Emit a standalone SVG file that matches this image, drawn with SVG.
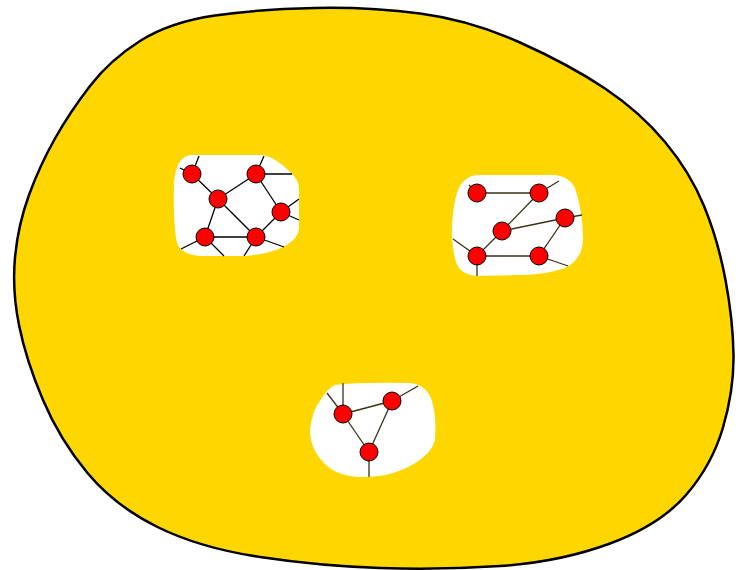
<svg xmlns="http://www.w3.org/2000/svg" width="741" height="570" viewBox="0 0 741 570">
<style>
.region{fill:#FFD700;stroke:#000;stroke-width:2.5}
.hole{fill:#fff;stroke:none}
.e1{stroke:#000;stroke-width:1.3;fill:none}
.e2{stroke:#3a3015;stroke-width:1.3;fill:none}
.n{fill:#FF0000;stroke:#000;stroke-width:1}
</style>
<rect width="741" height="570" fill="#fff"/>
<g id="region">
<path class="region" d="M315,8 Q370,7 420,13.5 Q470,20 520,42.5 Q570,65 605,88.5 Q640,112 665,142 Q690,172 704,206 Q718,240 725.5,280 Q733,320 733.5,355 Q734,390 723,427.5 Q712,465 686,495 Q660,525 610,543.5 Q560,562 500,566 Q440,570 380,568 Q320,566 260,557 Q200,548 157.5,527 Q115,506 87.5,473 Q60,440 43,400 Q26,360 19,325 Q12,290 15,257.5 Q18,225 29,195 Q40,165 55,138.5 Q70,112 90,86 Q110,60 140,41 Q170,22 215,15.5 Q260,9 315,8 Z"/>
</g>
<g id="holes">
<path id="hole1" class="hole" d="M190,155 L263,155 Q276,157 294,176 Q299,182 299,190 L299,228 Q299,238 285,246 Q270,254 245,256 L200,256 Q182,255 177,243 Q173,225 174,185 Q175,158 190,155 Z"/>
<path id="hole2" class="hole" d="M477,175 L555,175 Q570,177 575,188 Q583,212 583,240 Q582,260 565,268 Q545,275 520,275 L478,276 Q460,275 456,262 Q451,245 452,225 Q454,197 460,186 Q466,176 477,175 Z"/>
<path id="hole3" class="hole" d="M335,385 Q360,382 410,383 Q425,385 430,396 Q437,412 435,440 Q432,452 417,462 Q395,476 367,477 Q340,478 326,465 Q310,450 310,430 Q312,410 322,398 Q328,388 335,385 Z"/>
</g>
<g id="connectors">
<g class="e1">
<line x1="192" y1="174" x2="218" y2="199"/>
<line x1="218" y1="199" x2="256" y2="174"/>
<line x1="218" y1="199" x2="205" y2="237"/>
<line x1="218" y1="199" x2="256" y2="237"/>
<line x1="256" y1="174" x2="281" y2="212"/>
<line x1="281" y1="212" x2="256" y2="237"/>
<line x1="205" y1="237" x2="256" y2="237"/>
<line x1="192" y1="174" x2="199" y2="156"/>
<line x1="192" y1="174" x2="180" y2="168"/>
<line x1="256" y1="174" x2="264" y2="156"/>
<line x1="256" y1="174" x2="292" y2="174"/>
<line x1="281" y1="212" x2="299" y2="199"/>
<line x1="281" y1="212" x2="299" y2="220"/>
<line x1="205" y1="237" x2="181" y2="249"/>
<line x1="205" y1="237" x2="224" y2="256"/>
<line x1="256" y1="237" x2="244" y2="256"/>
<line x1="256" y1="237" x2="284" y2="247"/>
</g>
<g class="e2">
<line x1="477" y1="193" x2="539" y2="193"/>
<line x1="539" y1="193" x2="502" y2="231"/>
<line x1="502" y1="231" x2="565" y2="218"/>
<line x1="502" y1="231" x2="477" y2="256"/>
<line x1="477" y1="256" x2="539" y2="256"/>
<line x1="539" y1="256" x2="565" y2="218"/>
<line x1="477" y1="193" x2="469" y2="185"/>
<line x1="539" y1="193" x2="559" y2="181"/>
<line x1="565" y1="218" x2="582" y2="215"/>
<line x1="477" y1="256" x2="453" y2="239"/>
<line x1="477" y1="256" x2="477" y2="276"/>
<line x1="539" y1="256" x2="568" y2="266"/>
<line x1="343" y1="414" x2="392" y2="401"/>
<line x1="343" y1="414" x2="369" y2="452"/>
<line x1="392" y1="401" x2="369" y2="452"/>
<line x1="343" y1="414" x2="327" y2="393"/>
<line x1="343" y1="414" x2="343" y2="383"/>
<line x1="392" y1="401" x2="418" y2="386"/>
<line x1="369" y1="452" x2="369" y2="477"/>
</g>
</g>
<g id="n1"><circle class="n" cx="192" cy="174" r="9"/></g>
<g id="n2"><circle class="n" cx="256" cy="174" r="9"/></g>
<g id="n3"><circle class="n" cx="218" cy="199" r="9"/></g>
<g id="n4"><circle class="n" cx="281" cy="212" r="9"/></g>
<g id="n5"><circle class="n" cx="205" cy="237" r="9"/></g>
<g id="n6"><circle class="n" cx="256" cy="237" r="9"/></g>
<g id="n7"><circle class="n" cx="477" cy="193" r="9"/></g>
<g id="n8"><circle class="n" cx="539" cy="193" r="9"/></g>
<g id="n9"><circle class="n" cx="565" cy="218" r="9"/></g>
<g id="n10"><circle class="n" cx="502" cy="231" r="9"/></g>
<g id="n11"><circle class="n" cx="477" cy="256" r="9"/></g>
<g id="n12"><circle class="n" cx="539" cy="256" r="9"/></g>
<g id="n13"><circle class="n" cx="343" cy="414" r="9"/></g>
<g id="n14"><circle class="n" cx="392" cy="401" r="9"/></g>
<g id="n15"><circle class="n" cx="369" cy="452" r="9"/></g>
</svg>
